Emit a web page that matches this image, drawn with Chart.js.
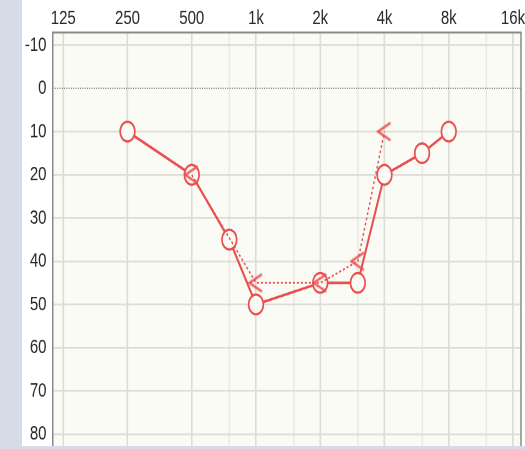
<!DOCTYPE html>
<html>
<head>
<meta charset="utf-8">
<script src="https://cdn.jsdelivr.net/npm/chart.js@4.4.1/dist/chart.umd.min.js"></script>
<style>
  html, body { margin: 0; padding: 0; background: #d5dce7; }
  body { height: 449px; overflow: visible; }
  /* the reference audiogram is stretched vertically (20 dB taller than 1 octave) */
  #wrap { width: 525px; height: 333px; transform: scaleY(1.34); transform-origin: 0 0; }
</style>
</head>
<body>
<div id="wrap"><canvas id="audiogram" width="525" height="333"></canvas></div>
<script>
// ---- DATA ----
const octaveFreqs = [125, 250, 500, 1000, 2000, 4000, 8000, 16000];
const octaveLabels = ['125', '250', '500', '1k', '2k', '4k', '8k', '16k'];
const halfOctaveFreqs = [750, 1500, 3000, 6000, 12000];
const dbTicks = [-10, 0, 10, 20, 30, 40, 50, 60, 70, 80];

// air conduction (circles, solid)
const airFreqs = [250, 500, 750, 1000, 2000, 3000, 4000, 6000, 8000];
const airDb = [10, 20, 35, 50, 45, 45, 20, 15, 10];
// bone conduction (<, dotted)
const boneFreqs = [500, 1000, 2000, 3000, 4000];
const boneDb = [20, 45, 45, 40, 10];

const RED = '#e94f50';
const GRID = '#dddcd5';
const BORDER = '#8a8a8a';
const FONT = "'Segoe UI', 'Liberation Sans', Arial, sans-serif";

// ---- MARKER "<" ----
function makeBoneMarker() {
  const c = document.createElement('canvas');
  c.width = 16; c.height = 16;
  const g = c.getContext('2d');
  g.strokeStyle = RED;
  g.lineWidth = 1.9;
  g.beginPath();
  g.moveTo(14, 1.5);
  g.lineTo(1.5, 8);
  g.lineTo(14, 14.5);
  g.stroke();
  return c;
}

// ---- PLUGINS ----
const panelBg = {
  id: 'panelBg',
  beforeDraw(chart) {
    const { ctx, chartArea: a } = chart;
    ctx.save();
    ctx.fillStyle = '#ffffff';
    ctx.fillRect(22, 0, chart.width - 22, chart.height);
    ctx.fillStyle = '#fbfbf5';
    ctx.fillRect(a.left, a.top, a.right - a.left, a.bottom - a.top);
    ctx.restore();
  }
};

const frameLines = {
  id: 'frameLines',
  beforeDatasetsDraw(chart) {
    const { ctx, chartArea: a, scales } = chart;
    const y0 = scales.y.getPixelForValue(0);
    ctx.save();
    // dotted 0 dB reference line
    ctx.strokeStyle = '#6e6e6e';
    ctx.lineWidth = 1;
    ctx.setLineDash([1, 1.3]);
    ctx.beginPath();
    ctx.moveTo(a.left, y0);
    ctx.lineTo(a.right, y0);
    ctx.stroke();
    // right frame
    ctx.setLineDash([]);
    ctx.strokeStyle = BORDER;
    ctx.lineWidth = 1.5;
    ctx.beginPath();
    ctx.moveTo(a.right, a.top);
    ctx.lineTo(a.right, a.bottom);
    ctx.stroke();
    ctx.restore();
  }
};

// ---- CHART ----
function toPoints(xs, ys) {
  return xs.map((f, i) => ({ x: f, y: ys[i] }));
}

function initAudiogram() {
  const canvas = document.getElementById('audiogram');
  if (!canvas || !window.Chart) return;
  new Chart(canvas, {
    type: 'line',
    data: {
      datasets: [
        {
          label: 'Bone',
          data: toPoints(boneFreqs, boneDb),
          borderColor: RED,
          borderWidth: 1.4,
          borderDash: [2, 2],
          pointStyle: makeBoneMarker(),
          pointRadius: 7,
          tension: 0,
          fill: false
        },
        {
          label: 'Air',
          data: toPoints(airFreqs, airDb),
          borderColor: RED,
          borderWidth: 2,
          pointStyle: 'circle',
          pointRadius: 7.3,
          pointBorderWidth: 1.7,
          pointBorderColor: RED,
          pointBackgroundColor: '#fbfbf5',
          tension: 0,
          fill: false
        }
      ]
    },
    options: {
      responsive: false,
      animation: false,
      devicePixelRatio: 2,
      layout: { autoPadding: false, padding: { left: 0, right: 4, top: 0, bottom: 0 } },
      plugins: { legend: { display: false }, tooltip: { enabled: false } },
      scales: {
        x: {
          type: 'logarithmic',
          position: 'top',
          min: 111.3,
          max: 17445,
          afterBuildTicks: s => {
            s.ticks = octaveFreqs.concat(halfOctaveFreqs).sort((a, b) => a - b).map(v => ({ value: v }));
          },
          afterFit: s => { s.height = 24; s.paddingLeft = 0; s.paddingRight = 0; },
          ticks: {
            autoSkip: false,
            maxRotation: 0,
            padding: 1,
            color: '#2a2a2a',
            font: { family: FONT, size: 15 },
            callback: v => {
              const i = octaveFreqs.indexOf(v);
              return i >= 0 ? octaveLabels[i] : '';
            }
          },
          grid: {
            drawTicks: false,
            lineWidth: 1.6,
            color: c => (c.tick && halfOctaveFreqs.includes(c.tick.value)) ? '#ebebe4' : GRID
          },
          border: { display: true, color: BORDER, width: 1.5 }
        },
        y: {
          type: 'linear',
          reverse: true,
          min: -13,
          max: 82.8,
          afterBuildTicks: s => { s.ticks = dbTicks.map(v => ({ value: v })); },
          afterFit: s => { s.width = 52.5; s.paddingTop = 0; s.paddingBottom = 0; },
          ticks: {
            padding: 6,
            color: '#2a2a2a',
            font: { family: FONT, size: 15 }
          },
          grid: {
            drawTicks: false,
            lineWidth: 1.3,
            color: c => (c.tick && c.tick.value === 0) ? 'rgba(0,0,0,0)' : GRID
          },
          border: { display: true, color: BORDER, width: 1.5 }
        }
      }
    },
    plugins: [panelBg, frameLines]
  });
}

document.addEventListener('DOMContentLoaded', initAudiogram);
</script>
</body>
</html>
